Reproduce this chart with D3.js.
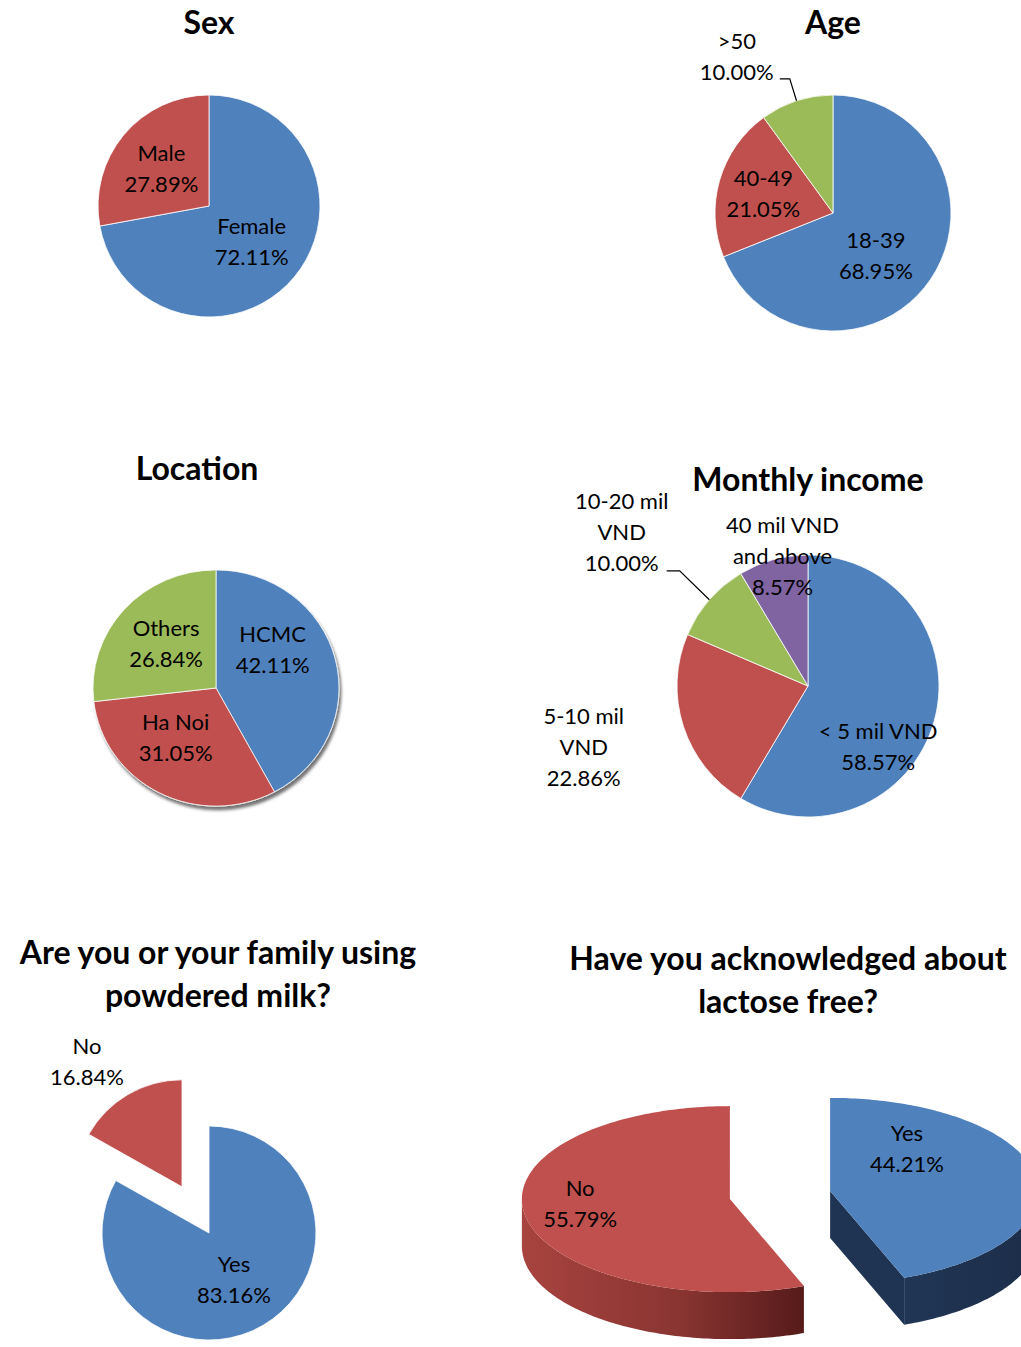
<!DOCTYPE html>
<html>
<head>
<meta charset="utf-8">
<script src="https://cdn.jsdelivr.net/npm/d3@7"></script>
<style>
  body { margin: 0; background: #fff; }
</style>
</head>
<body>
<div id="chart"></div>
<script>
// ---- data ----
const sexLabels = ["Female", "Male"];
const sexValues = [72.11, 27.89];

const ageLabels = ["18-39", "40-49", ">50"];
const ageValues = [68.95, 21.05, 10.00];

const locationLabels = ["HCMC", "Ha Noi", "Others"];
const locationValues = [42.11, 31.05, 26.84];

const incomeLabels = ["< 5 mil VND", "5-10 mil\nVND", "10-20 mil\nVND", "40 mil VND\nand above"];
const incomeValues = [58.57, 22.86, 10.00, 8.57];

const milkLabels = ["Yes", "No"];
const milkValues = [83.16, 16.84];

const lactoseLabels = ["Yes", "No"];
const lactoseValues = [44.21, 55.79];

// ---- style ----
const width = 1021;
const height = 1347;
const fontFamily = "Lato, 'Open Sans', sans-serif";
const labelSize = 22;
const lineHeight = 31;
const titleSize = 32;
const blue = "#4F81BD", red = "#C0504D", green = "#9BBB59", purple = "#8064A2";

const svg = d3.select("#chart")
  .append("svg")
  .attr("width", width)
  .attr("height", height)
  .style("font-family", fontFamily);

const defs = svg.append("defs");
const shadow = defs.append("filter").attr("id", "shadow")
  .attr("x", "-10%").attr("y", "-10%").attr("width", "120%").attr("height", "125%");
shadow.append("feDropShadow")
  .attr("dx", 2).attr("dy", 4).attr("stdDeviation", 1.5)
  .attr("flood-color", "#000").attr("flood-opacity", 0.55);

const redWall = defs.append("linearGradient").attr("id", "redWall")
  .attr("x1", "0%").attr("x2", "100%").attr("y1", "0%").attr("y2", "0%");
redWall.append("stop").attr("offset", "0%").attr("stop-color", "#a8433f");
redWall.append("stop").attr("offset", "55%").attr("stop-color", "#8a3532");
redWall.append("stop").attr("offset", "100%").attr("stop-color", "#561b1a");

const blueWall = defs.append("linearGradient").attr("id", "blueWall")
  .attr("x1", "0%").attr("x2", "100%").attr("y1", "0%").attr("y2", "0%");
blueWall.append("stop").attr("offset", "0%").attr("stop-color", "#213656");
blueWall.append("stop").attr("offset", "100%").attr("stop-color", "#1b2d48");

function drawTitle(lines, x, y) {
  svg.append("g")
    .selectAll("text")
    .data(lines)
    .join("text")
    .attr("x", x)
    .attr("y", (d, i) => y + i * 43)
    .attr("text-anchor", "middle")
    .attr("font-size", titleSize)
    .attr("font-weight", "bold")
    .attr("fill", "#000")
    .text(d => d);
}

function drawLabel(text, x, y) {
  const lines = text.split("\n");
  const y0 = y - (lines.length - 1) * lineHeight / 2;
  svg.append("g")
    .selectAll("text")
    .data(lines)
    .join("text")
    .attr("x", x)
    .attr("y", (d, i) => y0 + i * lineHeight)
    .attr("dy", "0.35em")
    .attr("text-anchor", "middle")
    .attr("font-size", labelSize)
    .attr("fill", "#000")
    .text(d => d);
}

function drawPie(o) {
  const arcs = d3.pie().sort(null).value(d => d)(o.values);
  const sy = o.sy || 1;
  const arc = d3.arc().innerRadius(0).outerRadius(o.r);
  const pieG = svg.append("g")
    .attr("transform", `translate(${o.cx},${o.cy}) scale(1,${sy})`);
  if (o.shadow) pieG.attr("filter", "url(#shadow)");

  arcs.forEach((a, i) => {
    const ex = (o.explode ? o.explode[i] : 0) * o.r;
    const mid = (a.startAngle + a.endAngle) / 2;
    const ox = Math.sin(mid) * ex;
    const oy = -Math.cos(mid) * ex;
    pieG.append("path")
      .attr("d", arc(a))
      .attr("transform", `translate(${ox},${oy})`)
      .attr("fill", o.colors[i])
      .attr("stroke", "#fff")
      .attr("stroke-width", 0.8);

    // label around centroid, nudged like the original
    const k = o.labelK || 0.5;
    const nd = o.nudge[i] || [0, 0];
    const lx = o.cx + ox + Math.sin(mid) * o.r * k + nd[0];
    const ly = o.cy + (oy - Math.cos(mid) * o.r * k) * sy + nd[1];
    drawLabel(`${o.labels[i]}\n${o.values[i].toFixed(2)}%`, lx, ly);

    if (o.leaders && o.leaders[i]) {
      const L = o.leaders[i];
      const sx = o.cx + ox + Math.sin(mid) * o.r;
      const syy = o.cy + (oy - Math.cos(mid) * o.r) * sy;
      svg.append("path")
        .attr("d", d3.line()([[sx, syy], [lx + L[0][0], ly + L[0][1]], [lx + L[1][0], ly + L[1][1]]]))
        .attr("fill", "none")
        .attr("stroke", "#000")
        .attr("stroke-width", 1.2);
    }
  });
}

// 3D tilted pie (lactose free)
function drawPie3D(o) {
  const arcs = d3.pie().sort(null).value(d => d)(o.values);
  const P = (ax, ay, t, f, z) => [ax + o.rx * f * Math.sin(t), ay - o.ry * f * Math.cos(t) + (z || 0)];
  const step = Math.PI / 180;
  const sample = (a0, a1) => d3.range(a0, a1, step).concat([a1]);

  arcs.forEach((a, i) => {
    const mid = (a.startAngle + a.endAngle) / 2;
    const [ax, ay] = P(o.cx, o.cy, mid, o.explode[i]);
    const dep = o.depth;

    // cut faces
    [[a.endAngle, a.endAngle + Math.PI / 2], [a.startAngle, a.startAngle - Math.PI / 2]].forEach(([t, n]) => {
      if (Math.cos(n) < -0.01) {
        const e = P(ax, ay, t, 1);
        svg.append("path")
          .attr("d", d3.line()([[ax, ay], e, [e[0], e[1] + dep], [ax, ay + dep]]) + "Z")
          .attr("fill", o.cutColors[i]);
      }
    });

    // outer wall, front half only
    const w0 = Math.max(a.startAngle, Math.PI / 2);
    const w1 = Math.min(a.endAngle, Math.PI * 1.5);
    if (w1 > w0) {
      const ts = sample(w0, w1);
      const top = ts.map(t => P(ax, ay, t, 1));
      const bot = ts.slice().reverse().map(t => P(ax, ay, t, 1, dep));
      svg.append("path")
        .attr("d", d3.line()(top.concat(bot)) + "Z")
        .attr("fill", o.wallFills[i]);
    }

    // top face
    const pts = [[ax, ay]].concat(sample(a.startAngle, a.endAngle).map(t => P(ax, ay, t, 1)));
    svg.append("path")
      .attr("d", d3.line()(pts) + "Z")
      .attr("fill", o.colors[i]);

    const [lx, ly] = P(ax, ay, mid, o.labelK);
    const nd = o.nudge[i];
    drawLabel(`${o.labels[i]}\n${o.values[i].toFixed(2)}%`, lx + nd[0], ly + nd[1]);
  });
}

// ---- charts ----
drawTitle(["Sex"], 209, 34);
drawPie({
  labels: sexLabels, values: sexValues, colors: [blue, red],
  cx: 209, cy: 206, r: 111,
  nudge: [[0, 0], [-5, -2]]
});

drawTitle(["Age"], 833, 34);
drawPie({
  labels: ageLabels, values: ageValues, colors: [blue, red, green],
  cx: 833, cy: 213, r: 118,
  nudge: [[-6, 10], [-13, -3], [-78, -100]],
  leaders: [null, null, [[53, 22], [43, 22]]]
});

drawTitle(["Location"], 197, 480);
drawPie({
  labels: locationLabels, values: locationValues, colors: [blue, red, green],
  cx: 216, cy: 688, r: 123, sy: 0.96, shadow: true,
  nudge: [[-3, -24], [-12, -3], [-4, -5]]
});

drawTitle(["Monthly income"], 808, 491);
drawPie({
  labels: incomeLabels, values: incomeValues, colors: [blue, red, green, purple],
  cx: 808, cy: 686, r: 131,
  nudge: [[7, 43], [-162, 41], [-137, -111], [-8, -67]],
  leaders: [null, null, [[58, 39], [45, 39]], null]
});

drawTitle(["Are you or your family using", "powdered milk?"], 218, 964);
drawPie({
  labels: milkLabels, values: milkValues, colors: [blue, red],
  cx: 209, cy: 1233, r: 107, explode: [0, 0.5],
  nudge: [[-2, 1], [-68, -79]]
});

drawTitle(["Have you acknowledged about", "lactose free?"], 788, 970);
drawPie3D({
  labels: lactoseLabels, values: lactoseValues,
  colors: [blue, red], cutColors: ["#1f3452", "#6a2422"],
  wallFills: ["url(#blueWall)", "url(#redWall)"],
  cx: 780, cy: 1195, rx: 208, ry: 93, depth: 47,
  explode: [0.245, 0.245], labelK: 0.6,
  nudge: [[-46, -32], [-27, -5]]
});
</script>
</body>
</html>
